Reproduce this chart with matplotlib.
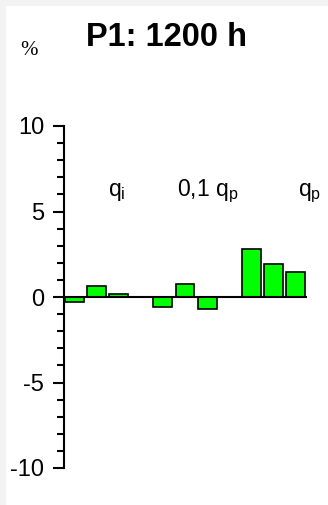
import numpy as np
import matplotlib.pyplot as plt
from matplotlib.patches import Rectangle
from matplotlib.ticker import MultipleLocator

plt.rcParams['font.family'] = ['Liberation Sans', 'DejaVu Sans']
plt.rcParams['mathtext.fontset'] = 'custom'
plt.rcParams['mathtext.rm'] = 'Liberation Sans'
plt.rcParams['axes.unicode_minus'] = False

# Abweichungen je Laststufe, in %
positions = [0, 1, 2, 4, 5, 6, 8, 9, 10]
values = [-0.31, 0.66, 0.16, -0.58, 0.76, -0.70, 2.79, 1.91, 1.44]
group_labels = [r'q$_\mathregular{i}$', r'0,1 q$_\mathregular{p}$', r'q$_\mathregular{p}$']
label_x = [1.50, 4.66, 10.12]
title = 'P1: 1200 h'

W, H = 328, 505
fig = plt.figure(figsize=(W / 100, H / 100), dpi=100, facecolor='white')
# schmaler grauer Rand oben und links
fig.patches.append(Rectangle((0, 0), 6 / W, 1, transform=fig.transFigure,
                             facecolor='#f3f3f3', edgecolor='none', zorder=0))
fig.patches.append(Rectangle((0, 1 - 6 / H), 1, 6 / H, transform=fig.transFigure,
                             facecolor='#f3f3f3', edgecolor='none', zorder=0))

ax = fig.add_axes([63.5 / W, (H - 468) / H, 243 / W, 342 / H])
ax.set_facecolor('none')
ax.bar(positions, values, width=0.86, color='#00ff00', edgecolor='black', linewidth=1.2, zorder=3)
ax.axhline(0, color='black', linewidth=1.5, zorder=4)

ax.set_xlim(-0.5, 10.5)
ax.set_ylim(-10, 10)
for s in ['top', 'right', 'bottom']:
    ax.spines[s].set_visible(False)
ax.spines['left'].set_linewidth(1.5)
ax.set_xticks([])
ax.yaxis.set_major_locator(MultipleLocator(5))
ax.yaxis.set_minor_locator(MultipleLocator(1))
ax.tick_params(axis='y', which='major', length=8, width=1.5, labelsize=17, pad=6)
ax.tick_params(axis='y', which='minor', length=5, width=1.5)

for x, lab in zip(label_x, group_labels):
    ax.text(x, 5.9, lab, ha='left', va='baseline', fontsize=16.5)

fig.text(167 / W, 1 - 45.7 / H, title, ha='center', va='baseline', fontsize=23.5, fontweight='bold')
fig.text(20 / W, 1 - 55 / H, '%', ha='left', va='baseline', fontsize=15, family='Liberation Serif')

fig.savefig('out.png', dpi=100, facecolor=fig.get_facecolor())
